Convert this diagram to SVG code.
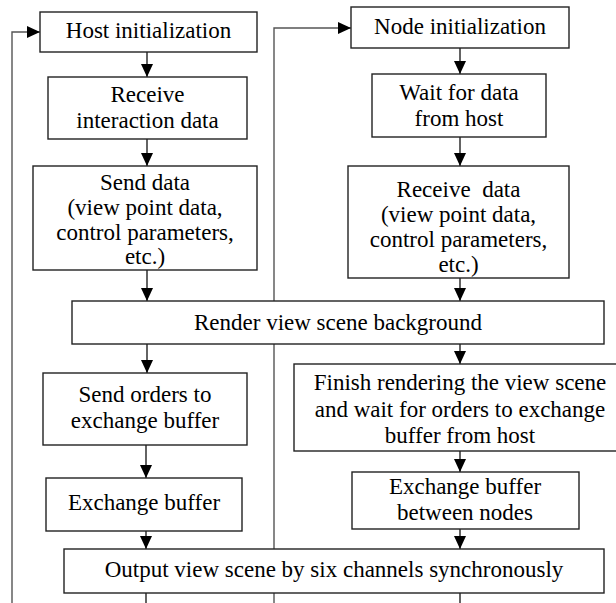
<svg xmlns="http://www.w3.org/2000/svg" width="616" height="603" viewBox="0 0 616 603">
<style>
.box{fill:#fff;stroke:#222;stroke-width:1.4}
.t{font-family:'Liberation Serif',Tinos,'Times New Roman','DejaVu Serif',serif;font-size:23px;fill:#000;text-anchor:middle}
.c{fill:none;stroke:#222;stroke-width:1.4}
.loop{fill:none;stroke:#555;stroke-width:1.4}
</style>
<defs>
<marker id="ah" markerUnits="userSpaceOnUse" markerWidth="13" markerHeight="12" refX="13" refY="6" orient="auto">
<path d="M0,0 L13,6 L0,12 Z" fill="#000"/>
</marker>
</defs>
<rect width="616" height="603" fill="#fff"/>
<g id="connectors">
<path class="loop" d="M12,603 V32 H40" marker-end="url(#ah)"/>
<path class="loop" d="M274,603 V28 H351" marker-end="url(#ah)"/>
<path class="c" d="M147,52 V77" marker-end="url(#ah)"/>
<path class="c" d="M147,139 V166" marker-end="url(#ah)"/>
<path class="c" d="M147,270 V301" marker-end="url(#ah)"/>
<path class="c" d="M147,344 V373" marker-end="url(#ah)"/>
<path class="c" d="M146,445 V478" marker-end="url(#ah)"/>
<path class="c" d="M146,531 V549" marker-end="url(#ah)"/>
<path class="c" d="M146,593 V603"/>
<path class="c" d="M460,48 V74" marker-end="url(#ah)"/>
<path class="c" d="M460,137 V166" marker-end="url(#ah)"/>
<path class="c" d="M460,278 V301" marker-end="url(#ah)"/>
<path class="c" d="M460,344 V364" marker-end="url(#ah)"/>
<path class="c" d="M460,451 V472" marker-end="url(#ah)"/>
<path class="c" d="M460,529 V549" marker-end="url(#ah)"/>
<path class="c" d="M460,593 V603"/>
</g>
<g id="host-init"><rect class="box" x="40" y="12" width="217" height="40"/><text class="t" x="148.5" y="38">Host initialization</text></g>
<g id="receive-interaction"><rect class="box" x="48" y="77" width="199" height="62"/><text class="t" x="147.5" y="102">Receive</text><text class="t" x="147.5" y="128">interaction data</text></g>
<g id="send-data"><rect class="box" x="33" y="166" width="224" height="104"/><text class="t" x="145" y="190">Send data</text><text class="t" x="145" y="215">(view point data,</text><text class="t" x="145" y="240">control parameters,</text><text class="t" x="145" y="264">etc.)</text></g>
<g id="node-init"><rect class="box" x="351" y="7" width="218" height="41"/><text class="t" x="460" y="34">Node initialization</text></g>
<g id="wait-data"><rect class="box" x="372" y="74" width="174" height="63"/><text class="t" x="459" y="100">Wait for data</text><text class="t" x="459" y="126">from host</text></g>
<g id="receive-data"><rect class="box" x="348" y="166" width="221" height="112"/><text class="t" x="458.5" y="197" xml:space="preserve">Receive  data</text><text class="t" x="458.5" y="222">(view point data,</text><text class="t" x="458.5" y="247">control parameters,</text><text class="t" x="458.5" y="272">etc.)</text></g>
<g id="render"><rect class="box" x="72" y="301" width="532" height="43"/><text class="t" x="338" y="330">Render view scene background</text></g>
<g id="send-orders"><rect class="box" x="43" y="373" width="204" height="72"/><text class="t" x="145" y="402">Send orders to</text><text class="t" x="145" y="428">exchange buffer</text></g>
<g id="exchange-buffer"><rect class="box" x="46" y="478" width="196" height="53"/><text class="t" x="144" y="510">Exchange buffer</text></g>
<g id="finish-render"><rect class="box" x="294" y="364" width="330" height="87"/><text class="t" x="460" y="390">Finish rendering the view scene</text><text class="t" x="460" y="417">and wait for orders to exchange</text><text class="t" x="460" y="443">buffer from host</text></g>
<g id="exchange-nodes"><rect class="box" x="352" y="472" width="227" height="57"/><text class="t" x="465" y="494">Exchange buffer</text><text class="t" x="465" y="520">between nodes</text></g>
<g id="output"><rect class="box" x="64" y="549" width="540" height="44"/><text class="t" x="334" y="577">Output view scene by six channels synchronously</text></g>
</svg>
